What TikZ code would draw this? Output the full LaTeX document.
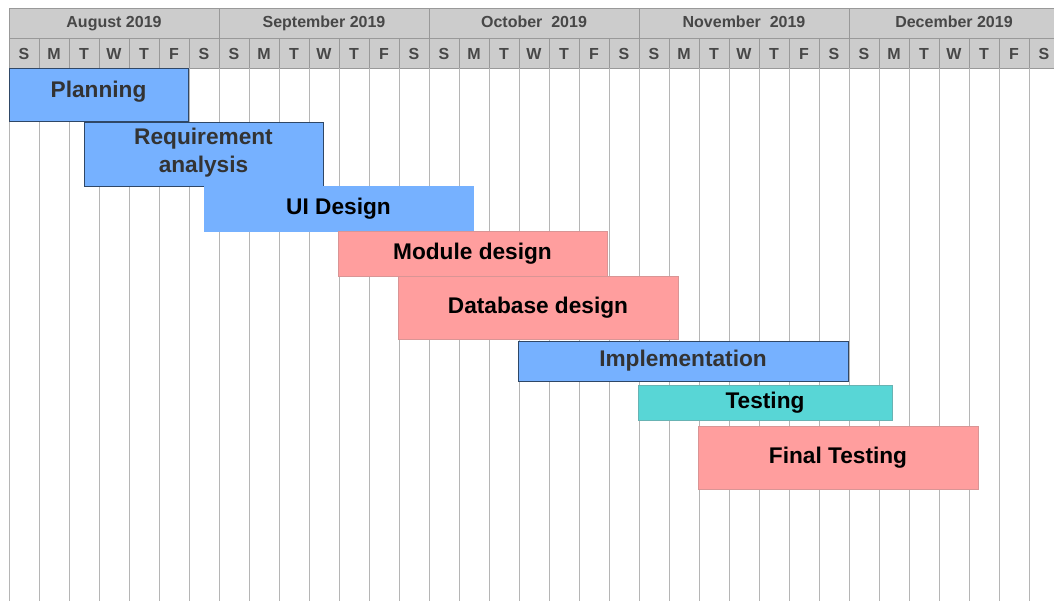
\documentclass[tikz,border=0pt]{standalone}
\usepackage{fontspec}
\setmainfont{Liberation Sans}
\usetikzlibrary{positioning}

\definecolor{headgray}{HTML}{CCCCCC}
\definecolor{headline}{HTML}{999999}
\definecolor{gridgray}{HTML}{B5B5B5}
\definecolor{barblue}{HTML}{76B1FF}
\definecolor{barpink}{HTML}{FF9E9E}
\definecolor{barteal}{HTML}{58D6D6}
\definecolor{darktext}{HTML}{333333}

\tikzset{
  headtext/.style={font=\fontsize{12}{14}\selectfont\bfseries, text=darktext!90, anchor=base},
  tasktext/.style={font=\fontsize{17}{21}\selectfont\bfseries, align=center},
  bluetask/.style={fill=barblue, draw=barblue!40!black, line width=0.75pt},
  pinktask/.style={fill=barpink, draw=barpink!70!gray, line width=0.75pt},
  tealtask/.style={fill=barteal, draw=barteal!60!gray, line width=0.75pt}
}

\begin{document}
\begin{tikzpicture}[x=0.75pt,y=-0.75pt]
\useasboundingbox (0,0) rectangle (1054,601);

% header
\fill[headgray] (9,8) rectangle (1059,68);
\draw[headline, line width=0.75pt] (9,8) -- (1059,8);
\draw[headline, line width=0.75pt] (9,38) -- (1059,38);
\draw[headline, line width=0.75pt] (9,68) -- (1059,68);
\foreach \m in {0,...,5}
  \draw[headline, line width=0.75pt] (9+210*\m,8) -- (9+210*\m,38);
\foreach \k in {0,...,35}
  \draw[headline, line width=0.75pt] (9+30*\k,38) -- (9+30*\k,68);

% grid
\foreach \k in {0,...,35}
  \draw[gridgray, line width=0.75pt] (9+30*\k,68) -- (9+30*\k,601);

% months and days
\foreach \m/\month in {0/August 2019, 1/September 2019, 2/October\ \ 2019, 3/November\ \ 2019, 4/December 2019}
  \node[headtext] (month\m) at (114+210*\m,27) {\month};
\foreach \m in {0,...,4}
  \foreach \d [count=\i from 0] in {S,M,T,W,T,F,S}
    \node[headtext] (day\m\i) at (24+210*\m+30*\i,59) {\d};

% tasks
\draw[bluetask] (9,68) rectangle (188,121) node[midway, tasktext, text=darktext, yshift=2pt] (plan) {Planning};
\draw[bluetask] (84,122) rectangle (323,186) node[midway, tasktext, text=darktext, yshift=1pt] (req) {Requirement\\analysis};
\draw[fill=barblue, draw=barblue] (204,186) rectangle (473,231) node[midway, tasktext] (ui) {UI Design};
\draw[pinktask] (338,231) rectangle (607,276) node[midway, tasktext] (module) {Module design};
\draw[pinktask] (398,276) rectangle (678,339) node[midway, tasktext] (db) {Database design};
\draw[bluetask] (518,341) rectangle (848,381) node[midway, tasktext, text=darktext] (impl) {Implementation};
\draw[tealtask] (638,385) rectangle (892,420) node[midway, tasktext] (test) {Testing};
\draw[pinktask] (698,426) rectangle (978,489) node[midway, tasktext] (final) {Final Testing};

\end{tikzpicture}
\end{document}
